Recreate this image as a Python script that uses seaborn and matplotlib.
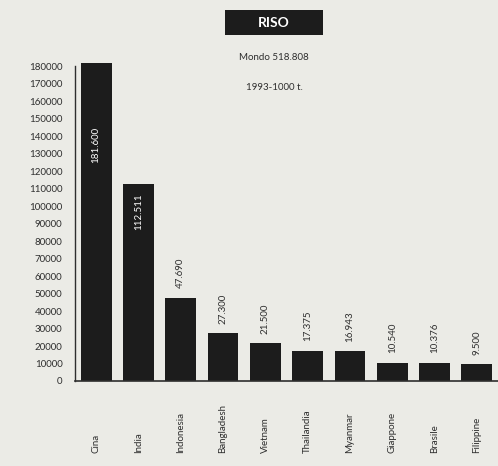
import matplotlib
matplotlib.use("Agg")
import matplotlib.pyplot as plt
from matplotlib.patches import Rectangle
import seaborn as sns
import pandas as pd

# Rice production 1993, thousand tonnes
paesi = ["Cina", "India", "Indonesia", "Bangladesh", "Vietnam",
         "Thailandia", "Myanmar", "Giappone", "Brasile", "Filippine"]
produzione = [181600, 112511, 47690, 27300, 21500,
              17375, 16943, 10540, 10376, 9500]
etichette = ["181.600", "112.511", "47.690", "27.300", "21.500",
             "17.375", "16.943", "10.540", "10.376", "9.500"]
tick_y = list(range(0, 180001, 10000))

bg = "#ebebe6"
bar_col = "#1c1c1c"
txt = "#2e2e2e"

sns.set_theme(style="white")
plt.rcParams["font.family"] = ["Lato", "DejaVu Sans"]

df = pd.DataFrame({"paese": paesi, "t": produzione})

fig = plt.figure(figsize=(4.98, 4.66), dpi=100, facecolor=bg)
ax = fig.add_axes([75 / 498, 1 - 381 / 466, 423 / 498, 331 / 466])
ax.set_facecolor(bg)

sns.barplot(data=df, x="paese", y="t", color=bar_col, width=0.73,
            saturation=1, ax=ax, edgecolor=bar_col, linewidth=0)

ax.set_xlim(-0.5, 9.5)
ax.set_ylim(0, 189143)
ax.set_yticks(tick_y)
ax.set_yticklabels([str(v) for v in tick_y], fontsize=7, color=txt)
ax.tick_params(axis="y", length=0, pad=9)
ax.tick_params(axis="x", length=0)
ax.set_xticks(range(len(paesi)))
ax.set_xticklabels([])
ax.set_xlabel("")
ax.set_ylabel("")

for s in ["top", "right"]:
    ax.spines[s].set_visible(False)
ax.spines["left"].set_bounds(0, 180000)
ax.spines["left"].set_color(txt)
ax.spines["left"].set_linewidth(1.0)
ax.spines["bottom"].set_color(txt)
ax.spines["bottom"].set_linewidth(1.2)

# value labels: inside the two tallest bars, above the others
for i, (v, lab) in enumerate(zip(produzione, etichette)):
    if i == 0:
        ax.annotate(lab, (i, v), xytext=(0, -46), textcoords="offset points",
                    rotation=90, ha="center", va="top", fontsize=7, color="white")
    elif i == 1:
        ax.annotate(lab, (i, v), xytext=(0, -7), textcoords="offset points",
                    rotation=90, ha="center", va="top", fontsize=7, color="white")
    else:
        ax.annotate(lab, (i, v), xytext=(0, 7), textcoords="offset points",
                    rotation=90, ha="center", va="bottom", fontsize=7, color=txt)

# country names, rotated and aligned on a common baseline below the axis
for i, p in enumerate(paesi):
    ax.text(i, -0.218, p, transform=ax.get_xaxis_transform(), rotation=90,
            ha="center", va="bottom", fontsize=7, color=txt)

# header
fig.patches.append(Rectangle((225 / 498, 1 - 35 / 466), 98 / 498, 25 / 466,
                             transform=fig.transFigure, facecolor="#1c1c1c",
                             edgecolor="none"))
fig.text(274 / 498, 1 - 23 / 466, "RISO", ha="center", va="center",
         fontsize=10, fontweight="bold", color="white")
fig.text(274 / 498, 1 - 58 / 466, "Mondo 518.808", ha="center", va="center",
         fontsize=7, color=txt)
fig.text(274 / 498, 1 - 88 / 466, "1993-1000 t.", ha="center", va="center",
         fontsize=7, color=txt)

fig.savefig("out.png", dpi=100, facecolor=bg)
